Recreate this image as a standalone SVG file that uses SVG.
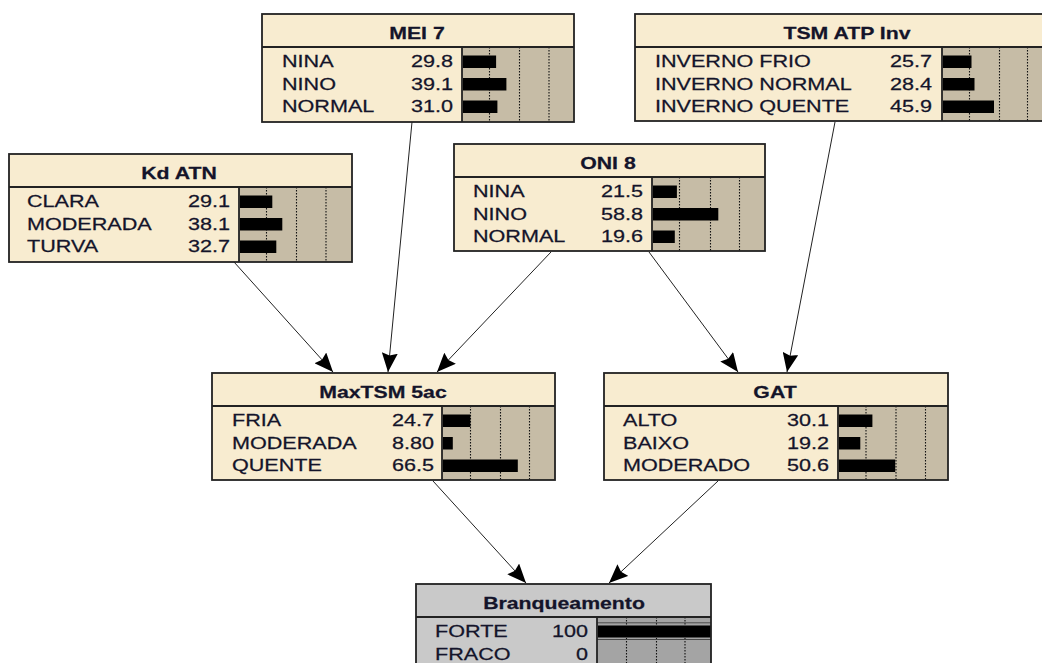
<svg xmlns="http://www.w3.org/2000/svg" width="1042" height="663" viewBox="0 0 1042 663">
<defs>
<style>
.nb{fill:#F8ECD0;stroke:none}
.nbg{fill:#C9C9C9;stroke:none}
.ba{fill:#C6BCA6;stroke:none}
.bag{fill:#A4A4A4;stroke:none}
.bd{fill:none;stroke:#222;stroke-width:1.8}
.dv{stroke:#222;stroke-width:1.8}
.gr{stroke:#111;stroke-width:1.1;stroke-dasharray:1.5 1.5}
.bar{fill:#000}
.t{font-family:"Liberation Sans",Arial,sans-serif;font-size:17px;fill:#14142a;stroke:#14142a;stroke-width:0.25}
.n{text-anchor:end}
.h{font-weight:bold;text-anchor:middle}
.cn{stroke:#222;stroke-width:1;fill:none;marker-end:url(#ah)}
</style>
<marker id="ah" markerUnits="userSpaceOnUse" markerWidth="19" markerHeight="16" viewBox="0 0 19 16" refX="19" refY="8" orient="auto">
<path d="M0,0 L19,8 L0,16 L2.5,8 Z" fill="#000"/>
</marker>
</defs>
<rect width="1042" height="663" fill="#fff"/>

<g id="connectors">
<line class="cn" x1="412" y1="122" x2="388" y2="372"/>
<line class="cn" x1="234" y1="262" x2="333" y2="372"/>
<line class="cn" x1="551" y1="252" x2="437" y2="372"/>
<line class="cn" x1="649" y1="252" x2="738" y2="372"/>
<line class="cn" x1="835" y1="122" x2="787" y2="372"/>
<line class="cn" x1="433" y1="481" x2="526" y2="583"/>
<line class="cn" x1="718" y1="481" x2="609" y2="583"/>
</g>

<g id="node-mei7">
<rect class="nb" x="262" y="14" width="312" height="108"/>
<rect class="ba" x="462" y="47" width="112" height="75"/>
<line class="gr" x1="489.5" y1="47" x2="489.5" y2="122"/>
<line class="gr" x1="519.5" y1="47" x2="519.5" y2="122"/>
<line class="gr" x1="549" y1="47" x2="549" y2="122"/>
<rect class="bar" x="463" y="55.5" width="33.1" height="12.5"/>
<rect class="bar" x="463" y="78" width="43.4" height="12.5"/>
<rect class="bar" x="463" y="100.5" width="34.4" height="12.5"/>
<line class="dv" x1="262" y1="47" x2="574" y2="47"/>
<line class="dv" x1="462" y1="47" x2="462" y2="122"/>
<rect class="bd" x="262" y="14" width="312" height="108"/>
<text class="t h" transform="translate(417,38.5) scale(1.25,1)">MEI 7</text>
<text class="t" transform="translate(282,67) scale(1.27,1)">NINA</text>
<text class="t" transform="translate(282,89.5) scale(1.27,1)">NINO</text>
<text class="t" transform="translate(282,112) scale(1.27,1)">NORMAL</text>
<text class="t n" transform="translate(453,67) scale(1.27,1)">29.8</text>
<text class="t n" transform="translate(453,89.5) scale(1.27,1)">39.1</text>
<text class="t n" transform="translate(453,112) scale(1.27,1)">31.0</text>
</g>

<g id="node-tsm">
<rect class="nb" x="635" y="14" width="430" height="107"/>
<rect class="ba" x="942" y="47" width="123" height="74"/>
<line class="gr" x1="969.5" y1="47" x2="969.5" y2="121"/>
<line class="gr" x1="999.5" y1="47" x2="999.5" y2="121"/>
<line class="gr" x1="1027.5" y1="47" x2="1027.5" y2="121"/>
<rect class="bar" x="943" y="55.5" width="28.5" height="12.5"/>
<rect class="bar" x="943" y="78" width="31.5" height="12.5"/>
<rect class="bar" x="943" y="100.5" width="51" height="12.5"/>
<line class="dv" x1="635" y1="47" x2="1065" y2="47"/>
<line class="dv" x1="942" y1="47" x2="942" y2="121"/>
<rect class="bd" x="635" y="14" width="430" height="107"/>
<text class="t h" transform="translate(847,38.5) scale(1.25,1)">TSM ATP Inv</text>
<text class="t" transform="translate(655,67) scale(1.27,1)">INVERNO FRIO</text>
<text class="t" transform="translate(655,89.5) scale(1.27,1)">INVERNO NORMAL</text>
<text class="t" transform="translate(655,112) scale(1.27,1)">INVERNO QUENTE</text>
<text class="t n" transform="translate(932,67) scale(1.27,1)">25.7</text>
<text class="t n" transform="translate(932,89.5) scale(1.27,1)">28.4</text>
<text class="t n" transform="translate(932,112) scale(1.27,1)">45.9</text>
</g>

<g id="node-kdatn">
<rect class="nb" x="9" y="154" width="343" height="108"/>
<rect class="ba" x="239" y="187" width="113" height="75"/>
<line class="gr" x1="266.5" y1="187" x2="266.5" y2="262"/>
<line class="gr" x1="296.5" y1="187" x2="296.5" y2="262"/>
<line class="gr" x1="326" y1="187" x2="326" y2="262"/>
<rect class="bar" x="240" y="195.5" width="32.3" height="12.5"/>
<rect class="bar" x="240" y="218" width="42.3" height="12.5"/>
<rect class="bar" x="240" y="240.5" width="36.3" height="12.5"/>
<line class="dv" x1="9" y1="187" x2="352" y2="187"/>
<line class="dv" x1="239" y1="187" x2="239" y2="262"/>
<rect class="bd" x="9" y="154" width="343" height="108"/>
<text class="t h" transform="translate(179,178.5) scale(1.25,1)">Kd ATN</text>
<text class="t" transform="translate(27,207) scale(1.27,1)">CLARA</text>
<text class="t" transform="translate(27,229.5) scale(1.27,1)">MODERADA</text>
<text class="t" transform="translate(27,252) scale(1.27,1)">TURVA</text>
<text class="t n" transform="translate(230,207) scale(1.27,1)">29.1</text>
<text class="t n" transform="translate(230,229.5) scale(1.27,1)">38.1</text>
<text class="t n" transform="translate(230,252) scale(1.27,1)">32.7</text>
</g>

<g id="node-oni8">
<rect class="nb" x="454" y="144" width="311" height="107"/>
<rect class="ba" x="652" y="177" width="113" height="74"/>
<line class="gr" x1="679.5" y1="177" x2="679.5" y2="251"/>
<line class="gr" x1="710.5" y1="177" x2="710.5" y2="251"/>
<line class="gr" x1="739.5" y1="177" x2="739.5" y2="251"/>
<rect class="bar" x="653" y="185.5" width="23.9" height="12.5"/>
<rect class="bar" x="653" y="208" width="65.3" height="12.5"/>
<rect class="bar" x="653" y="230.5" width="21.8" height="12.5"/>
<line class="dv" x1="454" y1="177" x2="765" y2="177"/>
<line class="dv" x1="652" y1="177" x2="652" y2="251"/>
<rect class="bd" x="454" y="144" width="311" height="107"/>
<text class="t h" transform="translate(608,168.5) scale(1.25,1)">ONI 8</text>
<text class="t" transform="translate(473,197) scale(1.27,1)">NINA</text>
<text class="t" transform="translate(473,219.5) scale(1.27,1)">NINO</text>
<text class="t" transform="translate(473,242) scale(1.27,1)">NORMAL</text>
<text class="t n" transform="translate(643,197) scale(1.27,1)">21.5</text>
<text class="t n" transform="translate(643,219.5) scale(1.27,1)">58.8</text>
<text class="t n" transform="translate(643,242) scale(1.27,1)">19.6</text>
</g>

<g id="node-maxtsm">
<rect class="nb" x="212" y="373" width="343" height="107"/>
<rect class="ba" x="442" y="406" width="113" height="74"/>
<line class="gr" x1="470.5" y1="406" x2="470.5" y2="480"/>
<line class="gr" x1="500.5" y1="406" x2="500.5" y2="480"/>
<line class="gr" x1="529.5" y1="406" x2="529.5" y2="480"/>
<rect class="bar" x="443" y="414.5" width="27.4" height="12.5"/>
<rect class="bar" x="443" y="437" width="9.8" height="12.5"/>
<rect class="bar" x="443" y="459.5" width="74.8" height="12.5"/>
<line class="dv" x1="212" y1="406" x2="555" y2="406"/>
<line class="dv" x1="442" y1="406" x2="442" y2="480"/>
<rect class="bd" x="212" y="373" width="343" height="107"/>
<text class="t h" transform="translate(383,397.5) scale(1.25,1)">MaxTSM 5ac</text>
<text class="t" transform="translate(232,426) scale(1.27,1)">FRIA</text>
<text class="t" transform="translate(232,448.5) scale(1.27,1)">MODERADA</text>
<text class="t" transform="translate(232,471) scale(1.27,1)">QUENTE</text>
<text class="t n" transform="translate(434,426) scale(1.27,1)">24.7</text>
<text class="t n" transform="translate(434,448.5) scale(1.27,1)">8.80</text>
<text class="t n" transform="translate(434,471) scale(1.27,1)">66.5</text>
</g>

<g id="node-gat">
<rect class="nb" x="604" y="373" width="344" height="107"/>
<rect class="ba" x="838" y="406" width="110" height="74"/>
<line class="gr" x1="866" y1="406" x2="866" y2="480"/>
<line class="gr" x1="896" y1="406" x2="896" y2="480"/>
<line class="gr" x1="925.5" y1="406" x2="925.5" y2="480"/>
<rect class="bar" x="839" y="414.5" width="33.4" height="12.5"/>
<rect class="bar" x="839" y="437" width="21.3" height="12.5"/>
<rect class="bar" x="839" y="459.5" width="56.2" height="12.5"/>
<line class="dv" x1="604" y1="406" x2="948" y2="406"/>
<line class="dv" x1="838" y1="406" x2="838" y2="480"/>
<rect class="bd" x="604" y="373" width="344" height="107"/>
<text class="t h" transform="translate(775,397.5) scale(1.25,1)">GAT</text>
<text class="t" transform="translate(623,426) scale(1.27,1)">ALTO</text>
<text class="t" transform="translate(623,448.5) scale(1.27,1)">BAIXO</text>
<text class="t" transform="translate(623,471) scale(1.27,1)">MODERADO</text>
<text class="t n" transform="translate(829,426) scale(1.27,1)">30.1</text>
<text class="t n" transform="translate(829,448.5) scale(1.27,1)">19.2</text>
<text class="t n" transform="translate(829,471) scale(1.27,1)">50.6</text>
</g>

<g id="node-branqueamento">
<rect class="nbg" x="416" y="584" width="295" height="100"/>
<rect class="bag" x="597" y="617" width="114" height="67"/>
<line class="gr" x1="626.5" y1="617" x2="626.5" y2="684"/>
<line class="gr" x1="656.5" y1="617" x2="656.5" y2="684"/>
<line class="gr" x1="685" y1="617" x2="685" y2="684"/>
<line x1="597" y1="622.8" x2="711" y2="622.8" stroke="#4a4a4a" stroke-width="1"/>
<rect class="bar" x="598" y="625.5" width="113" height="12"/>
<line x1="597" y1="639.5" x2="711" y2="639.5" stroke="#4a4a4a" stroke-width="1"/>
<line class="dv" x1="416" y1="617" x2="711" y2="617"/>
<line class="dv" x1="597" y1="617" x2="597" y2="684"/>
<rect class="bd" x="416" y="584" width="295" height="100"/>
<text class="t h" transform="translate(564,608.5) scale(1.25,1)">Branqueamento</text>
<text class="t" transform="translate(435,637) scale(1.27,1)">FORTE</text>
<text class="t" transform="translate(435,659.5) scale(1.27,1)">FRACO</text>
<text class="t n" transform="translate(588,637) scale(1.27,1)">100</text>
<text class="t n" transform="translate(588,659.5) scale(1.27,1)">0</text>
</g>
</svg>
